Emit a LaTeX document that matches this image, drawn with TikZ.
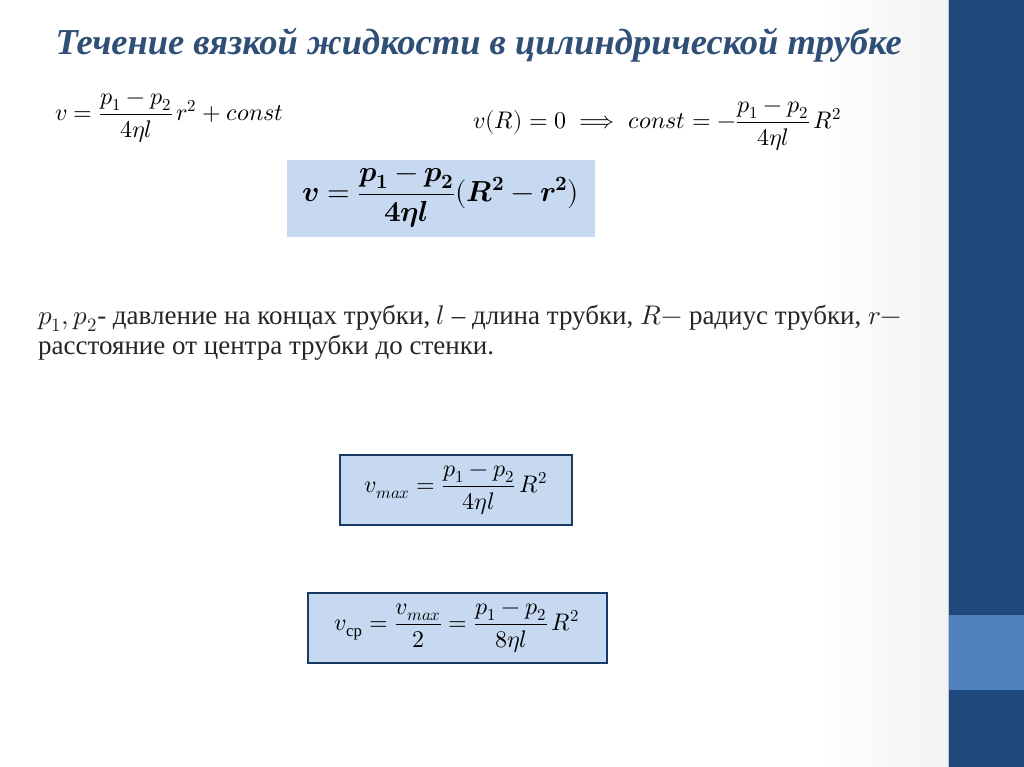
\documentclass[tikz,border=0pt]{standalone}
\usepackage{amsmath}
\usepackage{unicode-math}
\setmainfont{Liberation Serif}
\setmathfont{Latin Modern Math}
\definecolor{navy}{HTML}{1F497D}
\definecolor{lblue}{HTML}{4F81BD}
\definecolor{boxfill}{HTML}{C6D9F1}
\definecolor{titlec}{HTML}{2F4F76}
\tikzset{eq/.style={inner sep=0pt,font=\fontsize{24}{28}\selectfont},
 fbox/.style={fill=boxfill,draw=navy!80!black,line width=2.5pt,inner sep=0pt},
 body/.style={anchor=west,inner sep=0pt,text=black!85,font=\fontsize{27}{30}\selectfont}}
\begin{document}
\begin{tikzpicture}[x=1pt,y=-1pt]
\useasboundingbox (0,0) rectangle (1024,767);
\fill[white] (0,0) rectangle (948,767);
\shade[left color=white,right color=gray!12,opacity=0.8] (820,0) rectangle (948,767);
\fill[navy] (948,0) rectangle (1024,767);
\fill[lblue] (948,615) rectangle (1024,690);
\draw[white!70!navy,line width=1pt] (948,0) -- (948,767);
\node[anchor=west,text=titlec,font=\fontsize{36.5}{42}\selectfont\bfseries\itshape] (title) at (52,45) {Течение вязкой жидкости в цилиндрической трубке};
\node[eq,anchor=west] (e1) at (55,118) {$v=\dfrac{p_1-p_2}{4\eta l}\,r^2+const$};
\node[eq,anchor=west] (e2) at (473,126) {$v(R)=0\;\Longrightarrow\; const=-\dfrac{p_1-p_2}{4\eta l}\,R^2$};
\fill[boxfill] (287,160) rectangle (595,237);
\node[inner sep=0pt,font=\fontsize{29}{34}\selectfont] (e3) at (441,198) {$\symbfit{v}=\dfrac{\symbfit{p}_{\symbf{1}}-\symbfit{p}_{\symbf{2}}}{\symbf{4}\symbfit{\eta l}}\symbf{(}\symbfit{R}^{\symbf{2}}-\symbfit{r}^{\symbf{2}}\symbf{)}$};
\node[body] (t1) at (38,318) {$p_1,p_2$- давление на концах трубки, $l$ – длина трубки, $R-$ радиус трубки, $r-$};
\node[body] (t2) at (38,348) {расстояние от центра трубки до стенки.};
\draw[fbox] (340,455) rectangle (572,525);
\node[eq] (e4) at (456,490) {$v_{max}=\dfrac{p_1-p_2}{4\eta l}\,R^2$};
\draw[fbox] (308,593) rectangle (607,663);
\node[eq] (e5) at (457,628) {$v_{\text{ср}}=\dfrac{v_{max}}{2}=\dfrac{p_1-p_2}{8\eta l}\,R^2$};
\end{tikzpicture}
\end{document}
